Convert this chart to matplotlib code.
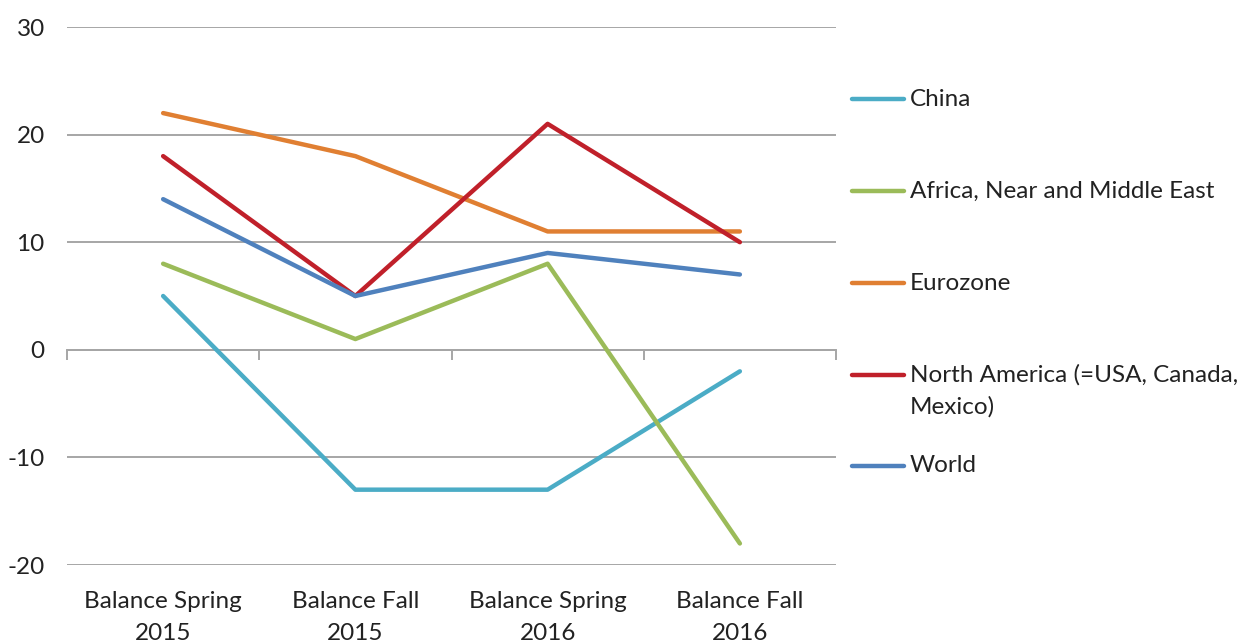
import matplotlib
matplotlib.use("Agg")
import matplotlib.pyplot as plt
from matplotlib.lines import Line2D
from matplotlib.transforms import blended_transform_factory

categories = ["Balance Spring\n2015", "Balance Fall\n2015", "Balance Spring\n2016", "Balance Fall\n2016"]
series_names = ["China", "Africa, Near and Middle East", "Eurozone",
                "North America (=USA, Canada,\nMexico)", "World"]
china = [5, -13, -13, -2]
africa = [8, 1, 8, -18]
eurozone = [22, 18, 11, 11]
north_america = [18, 5, 21, 10]
world = [14, 5, 9, 7]
yticks = [-20, -10, 0, 10, 20, 30]

colors = ["#4BACC6", "#9BBB59", "#E07F32", "#C0202A", "#4F81BD"]
values = [china, africa, eurozone, north_america, world]

FS = 17.5
plt.rcParams['font.family'] = ['Lato', 'DejaVu Sans']
fig = plt.figure(figsize=(12.46, 6.44), dpi=100)
ax = fig.add_axes([67/1246, 1-565/644, (836-67)/1246, (565-27)/644])

x = list(range(len(categories)))
for vals, c in zip(values, colors):
    ax.plot(x, vals, color=c, lw=3.2, solid_capstyle='round', solid_joinstyle='round', zorder=3)

ax.set_xlim(-0.5, len(categories) - 0.5)
ax.set_ylim(-20, 30)
ax.set_yticks(yticks)
ax.set_yticklabels([str(v) for v in yticks])
ax.yaxis.grid(True, color="#A6A6A6", lw=1.4)
ax.set_axisbelow(True)
ax.tick_params(axis='y', length=0, pad=16, labelsize=FS, labelcolor="#222222")

for s in ['top', 'right', 'left']:
    ax.spines[s].set_visible(False)
ax.spines['bottom'].set_position(('data', 0))
ax.spines['bottom'].set_color("#A6A6A6")
ax.spines['bottom'].set_linewidth(1.4)
ax.set_xticks([i - 0.5 for i in range(len(categories) + 1)], minor=True)
ax.set_xticks(x)
ax.set_xticklabels([])
ax.tick_params(axis='x', which='minor', length=7, width=1.4, color="#A6A6A6", direction='out')
ax.tick_params(axis='x', which='major', length=0)

trans = blended_transform_factory(ax.transData, ax.transAxes)
for i, lab in enumerate(categories):
    for k, part in enumerate(lab.split("\n")):
        ax.text(i, 1 - (601 + 32 * k - 27) / 538, part, transform=trans, ha='center',
                va='center', fontsize=FS, color="#222222")

# legend
leg_y = [99, 191, 283, 375, 466]
for name, c, yy in zip(series_names, colors, leg_y):
    fy = 1 - yy / 644
    fig.add_artist(Line2D([852/1246, 904/1246], [fy, fy], color=c, lw=3.2,
                          solid_capstyle='round', transform=fig.transFigure))
    for k, part in enumerate(name.split("\n")):
        fig.text(910/1246, 1 - (yy + 32 * k) / 644, part, ha='left', va='center',
                 fontsize=FS, color="#222222")

fig.savefig("out.png", dpi=100)
